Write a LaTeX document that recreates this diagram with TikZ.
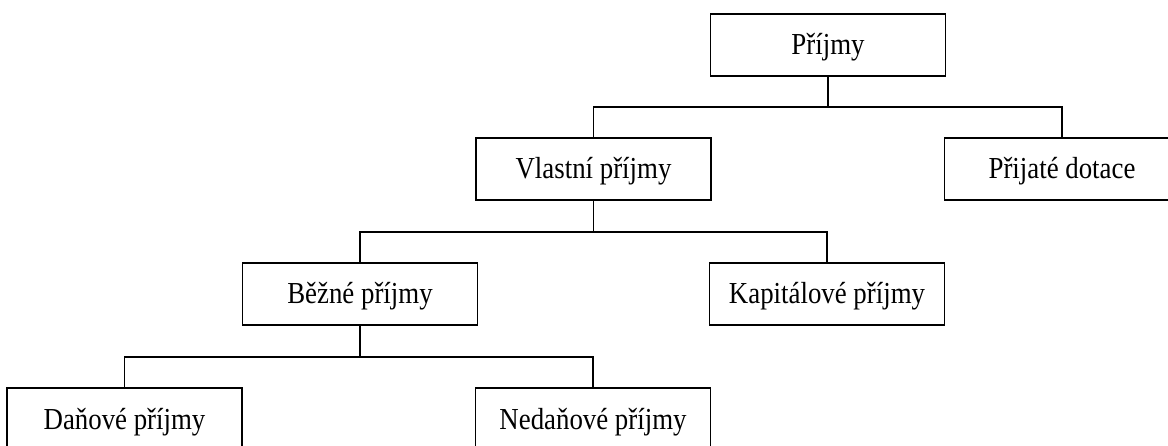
\documentclass[tikz,border=0pt]{standalone}
\usepackage{fontspec}
\setmainfont{Liberation Serif}
\newcommand{\sq}[1]{\scalebox{0.88}[1]{#1}}
\tikzset{
  box/.style={draw, line width=1.5pt, rectangle, minimum width=235pt, minimum height=62pt, inner sep=0pt, text height=20pt, text depth=0pt, font=\fontsize{30.5}{36}\selectfont, fill=white},
  conn/.style={line width=1.5pt}
}
\begin{document}
\begin{tikzpicture}[x=1pt,y=-1pt]
\useasboundingbox (0,0) rectangle (1168,446);
\clip (0,0) rectangle (1168,446);
\node[box] (P) at (828,45) {\sq{Příjmy}};
\node[box] (V) at (593.5,169) {\sq{Vlastní příjmy}};
\node[box] (D) at (1062,169) {\sq{Přijaté dotace}};
\node[box] (B) at (360,294) {\sq{Běžné příjmy}};
\node[box] (K) at (827,294) {\sq{Kapitálové příjmy}};
\node[box] (DA) at (124.5,419) {\sq{Daňové příjmy}};
\node[box] (N) at (593,419) {\sq{Nedaňové příjmy}};
\coordinate (b1) at (828,107);
\coordinate (b2) at (593.5,232);
\coordinate (b3) at (360,357);
\draw[conn] (P.south) -- (b1);
\draw[conn] (V.north) |- (b1) -| (D.north);
\draw[conn] (V.south) -- (b2);
\draw[conn] (B.north) |- (b2) -| (K.north);
\draw[conn] (B.south) -- (b3);
\draw[conn] (DA.north) |- (b3) -| (N.north);
\end{tikzpicture}
\end{document}
